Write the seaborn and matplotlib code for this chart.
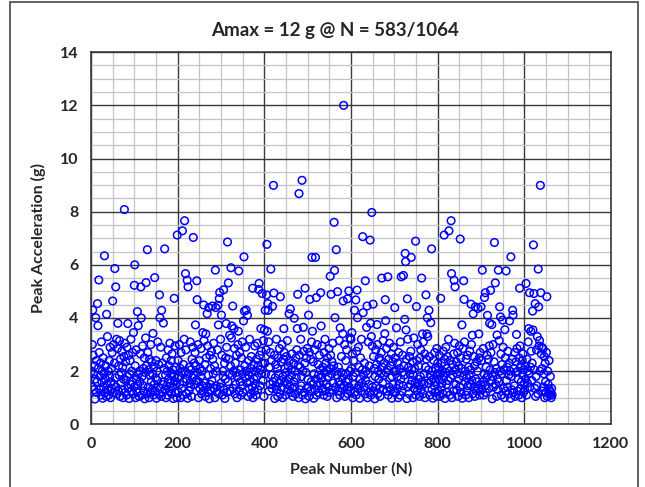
import numpy as np
import pandas as pd
import matplotlib
matplotlib.use("Agg")
import matplotlib.pyplot as plt
from matplotlib.ticker import MultipleLocator
from matplotlib.patches import Rectangle
import seaborn as sns

# ---------------- data (peak acceleration in g, by peak number) ----------------
acc_0001_0100 = [
    2.0, 1.4, 3.0, 1.1, 2.6, 1.9, 1.3, 2.2, 0.95, 1.7, 2.9, 1.2, 2.4, 1.6, 3.2, 1.0, 2.1, 1.5, 2.7, 1.3,
    1.8, 2.3, 1.1, 3.1, 1.6, 2.0, 0.98, 2.5, 1.4, 1.9, 2.8, 1.2, 1.7, 2.2, 1.05, 2.6, 1.5, 3.3, 1.3, 2.0,
    1.1, 2.4, 1.8, 2.9, 1.0, 1.6, 2.1, 1.35, 2.7, 1.9, 1.2, 3.0, 1.5, 2.3, 0.96, 1.75, 2.5, 1.4, 2.05, 1.15,
    2.85, 1.6, 1.25, 2.2, 1.85, 3.15, 1.05, 2.45, 1.55, 1.95, 2.75, 1.3, 2.15, 1.0, 1.7, 2.55, 1.45, 3.05, 1.2, 2.35,
    1.65, 1.1, 2.9, 1.8, 2.1, 1.35, 2.6, 0.97, 1.9, 2.4, 1.5, 3.2, 1.25, 2.0, 1.6, 2.7, 1.15, 2.25, 1.4, 1.85]
acc_0101_0200 = [
    1.3, 2.2, 1.0, 2.8, 1.7, 1.2, 2.4, 1.5, 3.1, 1.9, 1.05, 2.0, 1.6, 2.65, 1.35, 2.3, 1.1, 1.8, 2.95, 1.45,
    2.1, 1.25, 2.5, 0.96, 1.95, 3.25, 1.55, 2.2, 1.15, 1.7, 2.7, 1.4, 2.05, 1.0, 2.45, 1.85, 1.2, 3.0, 1.6, 2.35,
    1.3, 1.9, 2.6, 1.1, 2.15, 1.5, 2.85, 1.25, 1.75, 2.4, 0.98, 2.0, 1.65, 3.1, 1.4, 2.25, 1.15, 1.8, 2.55, 1.35,
    2.9, 1.05, 1.95, 2.3, 1.5, 1.2, 2.7, 1.6, 2.1, 3.2, 1.3, 1.85, 1.0, 2.5, 1.45, 2.0, 1.1, 2.8, 1.7, 2.2,
    1.25, 3.05, 1.55, 1.9, 2.4, 1.15, 2.65, 1.4, 2.05, 0.97, 1.8, 2.35, 1.6, 2.95, 1.2, 2.15, 1.5, 1.0, 2.6, 1.75]
acc_0201_0300 = [
    2.4, 1.2, 1.8, 3.0, 1.5, 2.1, 1.0, 2.7, 1.35, 1.95, 2.5, 1.1, 2.25, 1.6, 3.2, 1.3, 2.0, 1.45, 2.8, 1.15,
    1.7, 2.35, 0.98, 2.6, 1.9, 1.25, 2.15, 1.55, 3.1, 1.4, 2.05, 1.05, 2.45, 1.75, 2.9, 1.2, 1.85, 2.3, 1.5, 2.7,
    1.1, 2.2, 1.65, 1.3, 2.55, 1.95, 3.0, 1.0, 1.6, 2.4, 1.35, 2.1, 1.8, 2.85, 1.15, 2.0, 1.45, 2.65, 1.25, 1.9,
    3.15, 1.55, 2.25, 1.05, 1.7, 2.5, 1.4, 2.0, 2.95, 1.2, 1.85, 2.35, 0.96, 2.6, 1.5, 2.1, 1.3, 2.75, 1.65, 1.1,
    2.45, 1.9, 3.05, 1.35, 2.2, 1.0, 1.6, 2.55, 1.45, 2.0, 1.2, 2.8, 1.75, 2.3, 1.15, 1.95, 2.65, 1.4, 3.2, 1.55]
acc_0301_0400 = [
    1.5, 2.6, 1.1, 2.0, 1.8, 3.1, 1.3, 2.3, 0.97, 1.7, 2.5, 1.4, 2.9, 1.2, 2.1, 1.6, 1.0, 2.45, 1.9, 2.75,
    1.25, 2.2, 1.55, 3.25, 1.05, 1.85, 2.4, 1.35, 2.0, 1.7, 2.85, 1.15, 2.3, 1.5, 1.95, 2.6, 1.0, 1.8, 3.0, 1.4,
    2.15, 1.25, 2.7, 1.6, 2.05, 1.1, 2.5, 1.45, 3.1, 1.9, 1.2, 2.35, 1.65, 0.98, 2.2, 1.75, 2.9, 1.3, 2.0, 1.55,
    2.65, 1.05, 1.85, 2.4, 1.35, 3.2, 1.6, 2.1, 1.15, 2.55, 1.95, 1.4, 2.8, 1.0, 2.25, 1.7, 1.25, 2.95, 1.5, 2.0,
    1.1, 2.45, 1.8, 3.05, 1.3, 2.2, 1.6, 0.96, 2.6, 1.45, 2.05, 1.2, 2.75, 1.9, 1.35, 2.3, 1.65, 3.15, 1.05, 1.85]
acc_0401_0500 = [
    2.3, 1.15, 1.9, 2.8, 1.4, 2.05, 1.0, 2.55, 1.7, 3.1, 1.25, 2.15, 1.5, 2.7, 1.1, 1.85, 2.4, 1.35, 2.95, 1.6,
    2.0, 1.2, 2.6, 0.97, 1.75, 2.25, 1.45, 3.2, 1.3, 2.1, 1.05, 2.5, 1.9, 1.55, 2.85, 1.15, 2.0, 1.65, 2.35, 1.4,
    3.0, 1.0, 1.8, 2.45, 1.25, 2.7, 1.6, 2.1, 1.1, 1.95, 2.55, 1.5, 3.15, 1.3, 2.2, 1.7, 0.98, 2.4, 1.45, 2.9,
    1.2, 2.05, 1.85, 2.65, 1.35, 1.05, 2.3, 1.6, 3.05, 1.4, 2.0, 1.15, 2.5, 1.75, 2.8, 1.25, 1.9, 2.2, 1.0, 1.55,
    2.6, 1.3, 2.15, 3.2, 1.45, 1.8, 2.4, 1.1, 2.0, 1.65, 2.75, 1.2, 2.3, 1.5, 0.96, 1.95, 2.5, 1.35, 2.85, 1.7]
acc_0501_0600 = [
    1.4, 2.2, 1.05, 2.7, 1.8, 1.25, 2.45, 1.6, 3.1, 1.15, 2.0, 1.5, 2.35, 0.98, 1.9, 2.8, 1.3, 2.1, 1.7, 2.55,
    1.1, 3.0, 1.45, 2.25, 1.85, 1.2, 2.6, 1.55, 2.05, 1.0, 2.4, 1.75, 2.95, 1.35, 2.15, 1.6, 1.1, 2.7, 1.95, 3.2,
    1.25, 2.3, 1.5, 2.0, 1.05, 2.5, 1.8, 1.4, 2.85, 1.2, 2.1, 1.65, 2.6, 0.97, 1.9, 2.35, 1.3, 3.05, 1.55, 2.2,
    1.15, 2.75, 1.7, 2.0, 1.4, 2.45, 1.0, 1.85, 2.9, 1.25, 2.15, 1.6, 3.15, 1.1, 2.3, 1.5, 1.95, 2.55, 1.35, 1.75,
    2.65, 1.2, 2.05, 1.45, 3.0, 1.05, 1.9, 2.4, 1.6, 2.8, 1.3, 2.2, 1.15, 1.7, 2.5, 1.4, 2.0, 3.25, 1.25, 1.85]
acc_0601_0700 = [
    2.1, 1.3, 2.65, 1.0, 1.8, 2.4, 1.5, 3.05, 1.2, 1.95, 2.25, 1.1, 2.75, 1.6, 2.0, 1.35, 2.9, 1.45, 2.15, 0.98,
    1.7, 2.5, 1.25, 3.2, 1.55, 2.05, 1.05, 2.6, 1.85, 1.4, 2.3, 1.15, 2.85, 1.65, 2.0, 1.3, 2.45, 1.0, 1.9, 3.1,
    1.5, 2.2, 1.2, 2.7, 1.75, 1.1, 2.35, 1.6, 2.95, 1.4, 1.95, 2.55, 1.25, 2.1, 0.96, 1.8, 2.8, 1.45, 2.25, 1.6,
    3.0, 1.15, 2.0, 1.7, 2.5, 1.35, 1.05, 2.4, 1.9, 2.7, 1.2, 2.15, 1.55, 3.15, 1.3, 1.85, 2.3, 1.0, 2.6, 1.5,
    1.95, 2.85, 1.25, 2.05, 1.65, 1.1, 2.45, 1.4, 3.05, 1.75, 2.2, 1.3, 2.65, 0.98, 1.8, 2.35, 1.5, 2.9, 1.2, 2.0]
acc_0701_0800 = [
    1.6, 2.5, 1.2, 2.0, 2.9, 1.35, 1.8, 2.3, 1.0, 2.7, 1.5, 2.1, 1.1, 3.1, 1.7, 2.4, 1.25, 1.95, 2.6, 1.45,
    1.05, 2.2, 1.85, 2.85, 1.3, 2.0, 1.6, 2.45, 0.97, 1.75, 3.2, 1.4, 2.15, 1.15, 2.55, 1.9, 1.5, 2.75, 1.2, 2.05,
    1.65, 2.35, 1.0, 1.85, 2.95, 1.35, 2.1, 1.55, 2.6, 1.1, 1.95, 2.4, 1.25, 3.0, 1.7, 2.2, 1.45, 1.05, 2.5, 1.8,
    2.8, 1.3, 2.0, 1.6, 2.3, 1.15, 3.1, 1.5, 1.9, 2.65, 1.0, 2.15, 1.4, 2.45, 1.75, 1.2, 2.9, 1.55, 2.05, 1.35,
    2.55, 1.1, 1.85, 2.25, 1.65, 3.15, 1.3, 2.0, 0.98, 1.7, 2.4, 1.45, 2.7, 1.2, 2.1, 1.6, 1.05, 2.85, 1.9, 2.3]
acc_0801_0900 = [
    1.25, 2.15, 1.7, 2.6, 1.05, 1.9, 3.0, 1.4, 2.3, 1.55, 2.0, 1.15, 2.75, 1.8, 1.3, 2.45, 0.97, 1.95, 2.9, 1.5,
    2.1, 1.2, 2.55, 1.65, 3.2, 1.35, 2.0, 1.1, 2.4, 1.75, 2.8, 1.45, 1.0, 2.25, 1.85, 1.25, 2.65, 1.6, 3.05, 1.15,
    2.05, 1.5, 2.35, 1.3, 1.9, 2.7, 1.05, 2.2, 1.7, 2.95, 1.4, 1.95, 2.5, 1.2, 2.1, 1.55, 0.98, 2.85, 1.8, 2.3,
    1.35, 3.1, 1.6, 2.0, 1.1, 2.45, 1.75, 1.25, 2.6, 1.45, 2.15, 1.0, 1.85, 2.75, 1.5, 2.05, 1.3, 3.0, 1.65, 2.4,
    1.15, 1.9, 2.55, 1.4, 2.2, 1.05, 2.9, 1.7, 1.25, 2.35, 1.6, 2.0, 3.2, 1.35, 1.8, 2.5, 1.1, 2.7, 1.5, 1.95]
acc_0901_1000 = [
    2.4, 1.3, 2.0, 1.6, 2.85, 1.1, 1.9, 2.3, 1.45, 3.1, 1.2, 2.15, 1.75, 2.6, 1.0, 1.85, 2.45, 1.35, 2.95, 1.55,
    2.05, 1.15, 2.7, 1.65, 2.2, 0.96, 1.8, 3.0, 1.4, 2.35, 1.25, 1.95, 2.55, 1.5, 2.1, 1.05, 2.8, 1.7, 1.3, 2.4,
    1.6, 3.15, 1.2, 2.0, 1.45, 2.65, 1.1, 1.9, 2.25, 1.55, 2.9, 1.35, 2.05, 1.0, 1.75, 2.5, 1.25, 3.05, 1.65, 2.15,
    1.4, 2.75, 1.15, 1.85, 2.3, 1.5, 2.0, 0.98, 2.6, 1.8, 1.3, 2.45, 1.6, 3.2, 1.2, 2.1, 1.45, 2.7, 1.05, 1.95,
    2.35, 1.55, 2.85, 1.25, 2.0, 1.7, 1.1, 2.5, 1.4, 2.95, 1.35, 2.2, 1.6, 1.0, 2.4, 1.85, 2.65, 1.2, 2.05, 1.5]
acc_1001_1064 = [
    1.3, 2.2, 1.7, 2.9, 1.1, 2.45, 1.55, 2.0, 3.1, 1.25, 1.9, 2.6, 1.4, 2.15, 1.0, 2.75, 1.65, 2.3, 1.2, 1.85,
    3.0, 1.5, 2.05, 1.35, 2.5, 1.05, 1.8, 2.8, 1.45, 2.2, 1.15, 2.4, 1.6, 2.95, 1.3, 2.0, 1.75, 1.1, 2.65, 1.5,
    2.1, 1.25, 2.85, 1.4, 1.9, 2.55, 1.0, 2.3, 1.6, 1.2, 2.7, 1.35, 1.05, 2.0, 1.5, 1.15, 2.4, 1.3, 1.1, 1.8,
    1.2, 1.0, 1.35, 1.1]

# larger, individually readable peaks (peak number, acceleration g)
peak_n = [77, 31, 130, 170, 55, 101, 18, 57, 100, 115, 127, 147, 158, 15, 50, 4, 36, 11, 107, 116,
          163, 159, 16, 62, 85, 109, 98, 143, 167, 59,
          216, 211, 199, 236, 315, 353, 287, 323, 341, 218, 222, 224, 244, 317, 306, 297, 296, 192, 245, 260,
          272, 280, 288, 293, 268, 301, 327, 354, 352, 241, 294, 312, 325, 330, 258, 265, 320, 340,
          421, 487, 480, 406, 510, 518, 415, 388, 373, 387, 395, 405, 422, 437, 477, 494, 505, 520, 530, 408,
          419, 409, 402, 460, 457, 469, 502, 358, 361, 392, 400, 407, 445, 476, 490, 531, 511,
          583, 648, 561, 627, 644, 566, 725, 726, 562, 552, 633, 671, 685, 716, 721, 554, 569, 582, 592, 595,
          614, 611, 679, 701, 730, 608, 615, 628, 637, 651, 563, 575, 581, 636, 645, 660, 680, 678, 705, 724,
          727, 600, 602, 647,
          831, 826, 815, 852, 749, 786, 739, 903, 832, 838, 840, 860, 763, 773, 807, 861, 877, 887, 893, 900,
          908, 910, 882, 751, 780, 776, 784, 856, 765, 745, 775, 777, 880, 895,
          1037, 931, 1021, 969, 940, 958, 1032, 933, 922, 989, 1004, 1012, 1022, 1038, 1052, 1025, 1033, 1019, 943, 973,
          974, 966, 945, 950, 915, 920, 925, 955, 937, 982, 1010, 1015, 1020, 1030, 1035, 1040]
peak_g = [8.08, 6.34, 6.57, 6.6, 5.86, 6.0, 5.43, 5.17, 5.23, 5.17, 5.33, 5.52, 4.87, 4.54, 4.64, 4.3, 4.14, 4.01, 4.24, 4.0,
          4.29, 4.01, 3.71, 3.8, 3.79, 3.71, 3.45, 3.42, 3.81, 3.2,
          7.66, 7.28, 7.12, 7.03, 6.86, 6.3, 5.8, 5.89, 5.77, 5.67, 5.42, 5.17, 5.4, 5.32, 5.06, 4.96, 4.73, 4.74, 4.69, 4.49,
          4.39, 4.45, 4.39, 4.48, 4.16, 4.11, 4.45, 4.26, 3.89, 3.74, 3.74, 3.79, 3.7, 3.6, 3.45, 3.4, 3.35, 3.5,
          8.99, 9.18, 8.68, 6.77, 6.28, 6.28, 5.84, 5.3, 5.12, 5.07, 4.92, 4.87, 4.94, 4.8, 4.89, 5.12, 4.7, 4.77, 4.95, 4.54,
          4.44, 4.29, 4.29, 4.34, 4.16, 3.99, 4.11, 4.3, 4.1, 3.6, 3.55, 3.5, 3.6, 3.6, 3.65, 3.7, 3.5,
          12.0, 7.97, 7.6, 7.06, 6.93, 6.57, 6.43, 6.12, 5.79, 5.57, 5.4, 5.5, 5.55, 5.55, 5.6, 4.89, 4.99, 4.64, 4.72, 5.02,
          5.05, 4.68, 4.69, 4.39, 4.72, 4.29, 4.01, 4.2, 4.45, 4.52, 4.01, 3.63, 3.41, 3.65, 3.8, 3.75, 3.9, 3.41, 3.63, 3.95,
          3.55, 3.2, 3.45, 3.3,
          7.66, 7.28, 7.12, 6.97, 6.89, 6.6, 6.28, 5.8, 5.67, 5.42, 5.17, 5.4, 5.5, 4.87, 4.74, 4.7, 4.52, 4.42, 4.36, 4.42,
          4.77, 4.95, 4.16, 4.43, 4.29, 4.01, 3.82, 3.74, 3.4, 3.25, 3.4, 3.3, 3.35, 3.4,
          8.99, 6.84, 6.75, 6.3, 5.8, 5.77, 5.84, 5.32, 5.04, 5.12, 5.3, 4.95, 4.92, 4.95, 4.8, 4.54, 4.42, 4.26, 4.42, 4.29,
          4.11, 3.89, 4.04, 3.92, 4.1, 3.8, 3.75, 3.56, 3.36, 3.38, 3.6, 3.5, 3.55, 3.3, 3.15, 2.9]

title_text = "Amax = 12 g @ N = 583/1064"
x_label = "Peak Number (N)"
y_label = "Peak Acceleration (g)"
x_ticks = [0, 200, 400, 600, 800, 1000, 1200]
y_ticks = [0, 2, 4, 6, 8, 10, 12, 14]

blocks = [acc_0001_0100, acc_0101_0200, acc_0201_0300, acc_0301_0400, acc_0401_0500,
          acc_0501_0600, acc_0601_0700, acc_0701_0800, acc_0801_0900, acc_0901_1000, acc_1001_1064]
lens = [len(b) for b in blocks]
assert lens == [100] * 10 + [64], lens
assert len(peak_n) == len(peak_g), (len(peak_n), len(peak_g))

accel = np.concatenate([np.asarray(b, float) for b in blocks])
accel[np.asarray(peak_n) - 1] = peak_g
df = pd.DataFrame({"N": np.arange(1, len(accel) + 1), "g": accel})

# ---------------- plot ----------------
sns.set_style("white")
plt.rcParams["font.family"] = ["Lato", "DejaVu Sans"]

fig = plt.figure(figsize=(6.45, 4.87), dpi=100)
ax = fig.add_axes([91 / 645, 1 - 424.3 / 487, (611 - 91) / 645, (424.3 - 52.2) / 487])

ax.set_axisbelow(True)
ax.xaxis.set_minor_locator(MultipleLocator(50))
ax.yaxis.set_minor_locator(MultipleLocator(0.5))
ax.grid(which="minor", color="#C4C4C4", lw=0.9)
ax.grid(which="major", color="#3A3A3A", lw=1.0)

sns.scatterplot(data=df, x="N", y="g", ax=ax, marker="o", s=30,
                facecolor="none", edgecolor="#0000FF", linewidth=1.1, legend=False, zorder=3)

ax.set_xlim(0, 1200)
ax.set_ylim(0, 14)
ax.set_xticks(x_ticks)
ax.set_yticks(y_ticks)
ax.set_xticklabels([str(t) for t in x_ticks], fontsize=11.5, fontweight="bold")
ax.set_yticklabels([str(t) for t in y_ticks], fontsize=11.5, fontweight="bold")
ax.tick_params(which="both", length=0, pad=9)
for sp in ax.spines.values():
    sp.set_color("#3A3A3A")
    sp.set_linewidth(1.2)

ax.set_xlabel(x_label, fontsize=11.5, fontweight="bold", labelpad=8)
ax.set_ylabel(y_label, fontsize=11.5, fontweight="bold", labelpad=10)

fig.text(335 / 645, 1 - 36 / 487, title_text, ha="center", va="baseline",
         fontsize=13.5, fontweight="bold")

fig.patches.append(Rectangle((10 / 645, -0.02), 628 / 645, 1.02 - 2 / 487,
                             transform=fig.transFigure, fill=False,
                             edgecolor="#444444", lw=1.2))

fig.savefig("out.png", dpi=100)
